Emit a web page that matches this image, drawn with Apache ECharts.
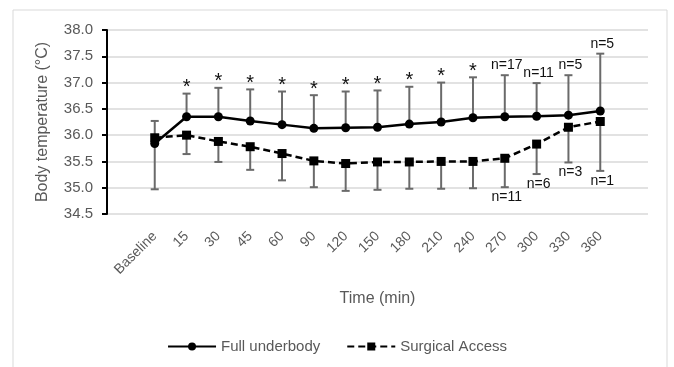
<!DOCTYPE html>
<html>
<head>
<meta charset="utf-8">
<script src="https://cdn.jsdelivr.net/npm/echarts@6/dist/echarts.min.js"></script>
<style>
  html, body { margin: 0; padding: 0; background: #fff; }
  #chart { width: 674px; height: 367px; }
</style>
</head>
<body>
<div id="chart"></div>
<script>
// time points (blank slot at each end, like the original plot area)
var timeLabels = ['Baseline', '15', '30', '45', '60', '90', '120', '150', '180', '210', '240', '270', '300', '330', '360'];
var fullMean = [35.84, 36.35, 36.35, 36.27, 36.20, 36.13, 36.14, 36.15, 36.21, 36.25, 36.33, 36.35, 36.36, 36.38, 36.46];
var fullUpper = [36.27, 36.79, 36.90, 36.87, 36.83, 36.76, 36.83, 36.85, 36.92, 37.00, 37.10, 37.14, 36.99, 37.14, 37.55];
var fullNotes = ['', '*', '*', '*', '*', '*', '*', '*', '*', '*', '*', 'n=17', 'n=11', 'n=5', 'n=5'];
var surgMean = [35.95, 36.00, 35.88, 35.78, 35.65, 35.51, 35.46, 35.49, 35.49, 35.50, 35.50, 35.56, 35.83, 36.15, 36.26];
var surgLower = [34.97, 35.64, 35.49, 35.34, 35.14, 35.01, 34.94, 34.96, 34.98, 34.98, 34.99, 35.01, 35.26, 35.48, 35.32];
var surgNotes = ['', '', '', '', '', '', '', '', '', '', '', 'n=11', 'n=6', 'n=3', 'n=1'];
var yTicks = [34.5, 38.0];

var FONT = '"Liberation Sans", Arial, sans-serif';
var axisCats = [''].concat(timeLabels, ['']);

function pairs(vals) {
    return vals.map(function(v, i) { return [i + 1, v]; });
}

function barData(lo, hi, notes) {
    return lo.map(function(v, i) { return [i + 1, v, hi[i], notes[i]]; });
}

// vertical error bar with cap; note text at the capped end
function errorBar(capAtTop) {
    return function(params, api) {
        var lo = api.coord([api.value(0), api.value(1)]);
        var hi = api.coord([api.value(0), api.value(2)]);
        var note = api.value(3);
        var cap = capAtTop ? hi : lo;
        var children = [
            { type: 'line', shape: { x1: lo[0], y1: lo[1], x2: hi[0], y2: hi[1] },
              style: { stroke: '#6a6a6a', lineWidth: 2 } },
            { type: 'line', shape: { x1: cap[0] - 4, y1: cap[1], x2: cap[0] + 4, y2: cap[1] },
              style: { stroke: '#6a6a6a', lineWidth: 2 } }
        ];
        if (note === '*') {
            children.push({
                type: 'text',
                style: {
                    text: note, x: cap[0], y: cap[1] - 6,
                    align: 'center', verticalAlign: 'middle',
                    fill: '#111', font: '20px ' + FONT
                }
            });
        } else if (note) {
            children.push({
                type: 'text',
                style: {
                    text: note,
                    x: cap[0] + 2,
                    y: capAtTop ? cap[1] - 3 : cap[1] + 3,
                    align: 'center',
                    verticalAlign: capAtTop ? 'bottom' : 'top',
                    fill: '#111',
                    font: '14px ' + FONT
                }
            });
        }
        return { type: 'group', children: children };
    };
}

var chart = echarts.init(document.getElementById('chart'));
var chartOptions = {
    animation: false,
    graphic: [{
        type: 'rect',
        shape: { x: 13, y: 10, width: 654, height: 370 },
        style: { fill: 'none', stroke: '#d9d9d9', lineWidth: 1 },
        silent: true
    }],
    grid: { left: 107, right: 26, top: 30, bottom: 153 },
    legend: {
        data: ['Full underbody', 'Surgical Access'],
        bottom: 8,
        left: 'center',
        itemWidth: 48,
        itemHeight: 10,
        itemGap: 26,
        textStyle: { color: '#595959', fontSize: 15, fontFamily: FONT }
    },
    xAxis: {
        type: 'category',
        data: axisCats,
        boundaryGap: true,
        name: 'Time (min)',
        nameLocation: 'middle',
        nameGap: 77,
        nameTextStyle: { color: '#595959', fontSize: 16, fontFamily: FONT },
        axisLine: { show: false },
        axisTick: { show: false },
        axisLabel: { interval: 0, rotate: 45, color: '#595959', fontSize: 14, fontFamily: FONT, margin: 20 }
    },
    yAxis: {
        type: 'value',
        min: yTicks[0],
        max: yTicks[1],
        interval: 0.5,
        name: 'Body temperature (\u00b0C)',
        nameLocation: 'middle',
        nameGap: 56,
        nameTextStyle: { color: '#595959', fontSize: 16, fontFamily: FONT },
        axisLine: { show: true, lineStyle: { color: '#000', width: 2 } },
        axisTick: { show: true, length: 5, lineStyle: { color: '#000', width: 2 } },
        axisLabel: {
            color: '#595959', fontSize: 15, fontFamily: FONT, margin: 14,
            formatter: function(v) { return v.toFixed(1); }
        },
        splitLine: { lineStyle: { color: '#d9d9d9', width: 1.5 } }
    },
    series: [
        {
            name: 'Full underbody err',
            type: 'custom',
            renderItem: errorBar(true),
            data: barData(fullMean, fullUpper, fullNotes),
            encode: { x: 0, y: [1, 2] },
            z: 1
        },
        {
            name: 'Surgical Access err',
            type: 'custom',
            renderItem: errorBar(false),
            data: barData(surgLower, surgMean, surgNotes),
            encode: { x: 0, y: [1, 2] },
            z: 1
        },
        {
            name: 'Surgical Access',
            type: 'line',
            data: pairs(surgMean),
            symbol: 'rect',
            symbolSize: 9,
            itemStyle: { color: '#000' },
            lineStyle: { color: '#000', width: 2.5, type: [7, 4] },
            z: 3
        },
        {
            name: 'Full underbody',
            type: 'line',
            data: pairs(fullMean),
            symbol: 'circle',
            symbolSize: 9,
            itemStyle: { color: '#000' },
            lineStyle: { color: '#000', width: 2.5 },
            z: 4
        }
    ]
};
chart.setOption(chartOptions);
</script>
</body>
</html>
